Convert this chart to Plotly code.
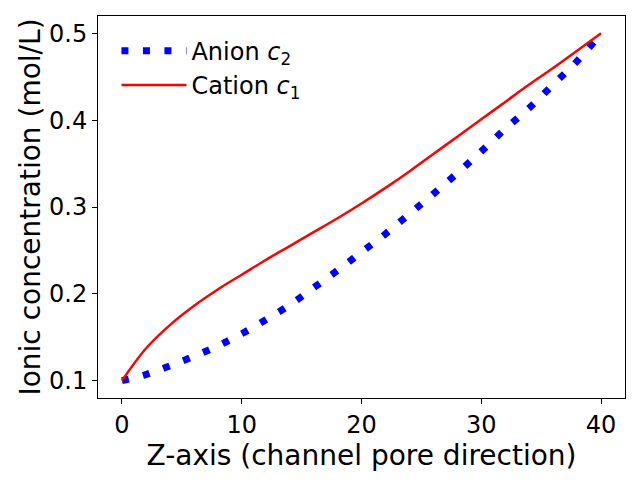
import plotly.graph_objects as go

# positions along the channel (z) and ionic concentrations
z = [0, 2, 4, 6, 8, 10, 12, 14, 16, 18, 20, 22, 24, 26, 28, 30, 32, 34, 36, 38, 40]
anion_c2 = [0.100, 0.107, 0.117, 0.128, 0.140, 0.154, 0.170, 0.187, 0.207, 0.227, 0.248,
            0.269, 0.292, 0.315, 0.339, 0.364, 0.390, 0.414, 0.441, 0.468, 0.500]
cation_c1 = [0.100, 0.137, 0.164, 0.186, 0.205, 0.222, 0.239, 0.255, 0.271, 0.287, 0.304,
             0.322, 0.341, 0.361, 0.381, 0.401, 0.421, 0.441, 0.460, 0.480, 0.500]

x_ticks = [0, 10, 20, 30, 40]
y_ticks = [0.1, 0.2, 0.3, 0.4, 0.5]

fig = go.Figure()

fig.add_trace(go.Scatter(
    x=z, y=anion_c2,
    mode='lines',
    name='Anion <i>c</i><sub>2</sub>',
    line=dict(color='#0000ff', width=7, dash='7px,14.5px', shape='spline'),
))

fig.add_trace(go.Scatter(
    x=z, y=cation_c1,
    mode='lines',
    name='Cation <i>c</i><sub>1</sub>',
    line=dict(color='#ff0000', width=2.5, shape='spline'),
))

axis_style = dict(
    showgrid=False,
    zeroline=False,
    showline=True,
    linecolor='black',
    linewidth=1,
    mirror=True,
    ticks='outside',
    ticklen=5,
    tickwidth=1,
    tickcolor='black',
    tickfont=dict(size=24, color='black'),
    automargin=False,
)

fig.update_xaxes(range=[-2, 42], tickvals=x_ticks,
                 title=dict(text='Z-axis (channel pore direction)', font=dict(size=28, color='black'), standoff=3),
                 **axis_style)
fig.update_yaxes(range=[0.08, 0.52], tickvals=y_ticks, tickformat='.1f',
                 title=dict(text='Ionic concentration (mol/L)', font=dict(size=28, color='black'), standoff=0),
                 **axis_style)

# the page adds ~8px of body margin, so margins are shifted to compensate
fig.update_layout(
    width=640, height=480,
    margin=dict(l=90, r=23, t=8, b=90),
    paper_bgcolor='white',
    plot_bgcolor='white',
    font=dict(family='DejaVu Sans', color='black'),
    legend=dict(
        x=0.035, y=0.967,
        xanchor='left', yanchor='top',
        bgcolor='rgba(255,255,255,0)',
        font=dict(size=24, color='black'),
        itemwidth=65,
        tracegroupgap=0,
    ),
)

fig.write_html("out.html")
